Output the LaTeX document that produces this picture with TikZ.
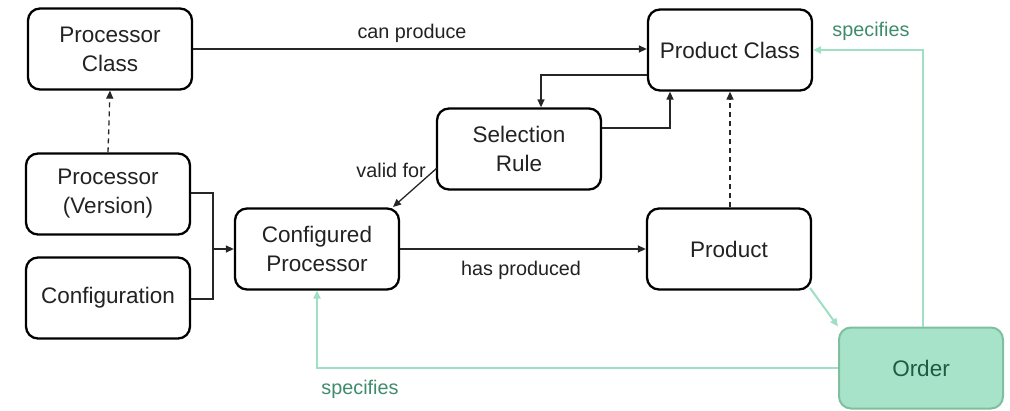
\documentclass[tikz,border=0pt]{standalone}
\usepackage{fontspec}
\setmainfont{Liberation Sans}
\usetikzlibrary{arrows.meta,positioning}
\definecolor{mint}{HTML}{A6E3C9}
\definecolor{mintline}{HTML}{9FDFC3}
\definecolor{mintdark}{HTML}{7FBF9F}
\definecolor{mtext}{HTML}{3E8C6C}
\definecolor{otext}{HTML}{1F5A43}
\definecolor{boxtext}{HTML}{222222}
\tikzset{
  ent/.style={draw=black, line width=2.3pt, rounded corners=12pt, minimum width=164pt, minimum height=81pt,
    align=center, font=\fontsize{22.5}{29}\selectfont, text=boxtext, inner sep=0pt},
  ord/.style={ent, draw=mintdark, fill=mint, text=otext, line width=2pt},
  conn/.style={draw=black!85, line width=1.3pt, -{Triangle[length=8pt,width=7pt]}},
  dconn/.style={conn, dash pattern=on 5pt off 4pt},
  gconn/.style={draw=mintline, line width=2pt, -{Triangle[length=8pt,width=7pt]}},
  lab/.style={font=\fontsize{19.8}{23}\selectfont, text=boxtext, inner sep=0pt},
  glab/.style={lab, text=mtext},
}
\begin{document}
\begin{tikzpicture}[x=1pt,y=-1pt]
\useasboundingbox (0,0) rectangle (1010,410);
\node[ent] (pc) at (110,49) {Processor\\Class};
\node[ent] (prc) at (730,50) {Product Class};
\node[ent] (sr) at (519,149) {Selection\\Rule};
\node[ent] (pv) at (108,194) {Processor\\(Version)};
\node[ent] (cfg) at (108,298) {Configuration};
\node[ent] (cp) at (317,249) {Configured\\Processor};
\node[ent] (prod) at (729,249) {Product};
\node[ord] (ord) at (921,368) {Order};
\coordinate (j) at (213,249);
% black connectors
\draw[conn] (pc.east |- 0,49) -- (prc.west |- 0,49);
\node[lab] at (412,33) {can produce};
\draw[conn] (prc.west |- 0,75) -| (sr.north -| 541,0);
\draw[conn] (sr.east |- 0,128) -| (prc.south -| 670,0);
\draw[conn] (437,168) -- (393,207);
\node[lab, anchor=east] at (426,170) {valid for};
\draw[line width=1.3pt, draw=black!85] (pv.east |- 0,193) -| (j);
\draw[line width=1.3pt, draw=black!85] (cfg.east |- 0,299) -| (j);
\draw[conn] (j) -- (cp.west);
\draw[conn] (cp.east) -- (prod.west);
\node[lab] at (521,270) {has produced};
\draw[dconn] (pv.north) -- (pc.south);
\draw[dconn] (prod.north -| 730,0) -- (prc.south -| 730,0);
% green connectors
\draw[gconn] (810,288) -- (ord.north west);
\draw[gconn] (ord.north -| 923,0) |- (prc.east);
\node[glab] at (871,31) {specifies};
\draw[gconn] (ord.west) -| (cp.south);
\node[glab] at (360,389) {specifies};
\end{tikzpicture}
\end{document}
